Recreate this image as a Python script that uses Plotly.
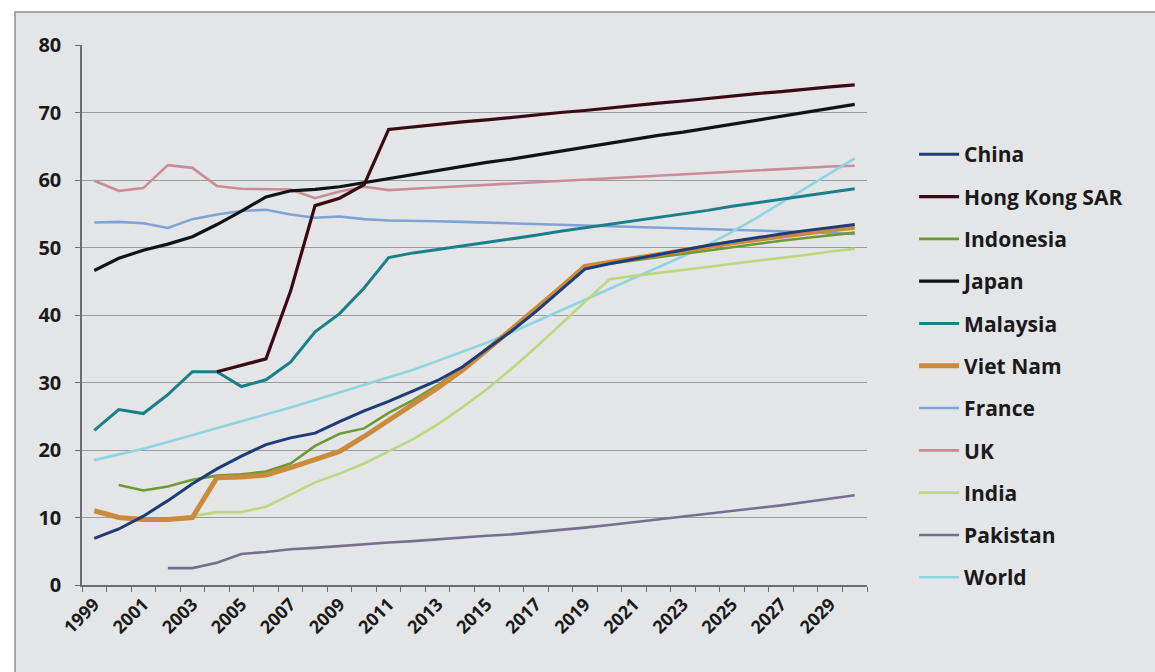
import plotly.graph_objects as go

years = list(range(1999, 2031))

china = [6.9, 8.3, 10.2, 12.5, 15.0, 17.2, 19.1, 20.8, 21.8, 22.5, 24.2, 25.8, 27.2, 28.7, 30.3, 32.3,
         35.0, 37.6, 40.5, 43.7, 46.8, 47.6, 48.3, 49.0, 49.7, 50.3, 50.9, 51.5, 52.0, 52.5, 53.0, 53.4]
hong_kong = [None, None, None, None, None, 31.6, 32.6, 33.5, 43.5, 56.2, 57.3, 59.3, 67.5, 67.9, 68.2, 68.6,
             68.9, 69.3, 69.6, 70.0, 70.3, 70.7, 71.0, 71.4, 71.7, 72.1, 72.4, 72.8, 73.1, 73.5, 73.8, 74.1]
indonesia = [None, 14.8, 14.0, 14.6, 15.6, 16.2, 16.4, 16.8, 18.0, 20.6, 22.4, 23.2, 25.5, 27.4, 29.6, 32.2,
             35.0, 38.0, 41.0, 44.2, 47.3, 47.6, 48.1, 48.6, 49.1, 49.6, 50.1, 50.6, 51.0, 51.4, 51.8, 52.2]
japan = [46.6, 48.4, 49.6, 50.5, 51.6, 53.4, 55.4, 57.5, 58.4, 58.6, 59.0, 59.6, 60.3, 60.9, 61.4, 62.0,
         62.6, 63.1, 63.7, 64.3, 64.9, 65.4, 66.0, 66.6, 67.1, 67.7, 68.3, 68.9, 69.4, 70.0, 70.6, 71.2]
malaysia = [22.9, 26.0, 25.4, 28.2, 31.6, 31.6, 29.4, 30.4, 33.0, 37.5, 40.2, 44.0, 48.5, 49.2, 49.7, 50.2,
            50.8, 51.3, 51.8, 52.4, 52.9, 53.4, 54.0, 54.5, 55.0, 55.5, 56.1, 56.6, 57.1, 57.6, 58.2, 58.7]
viet_nam = [11.0, 10.0, 9.7, 9.7, 10.0, 15.9, 16.0, 16.3, 17.4, 18.6, 19.8, 22.0, 24.5, 26.8, 29.2, 31.8,
            34.8, 37.8, 40.8, 44.0, 47.2, 47.8, 48.4, 49.0, 49.6, 50.2, 50.7, 51.2, 51.7, 52.2, 52.6, 53.0]
france = [53.7, 53.8, 53.6, 52.9, 54.2, 54.9, 55.4, 55.6, 54.9, 54.4, 54.6, 54.2, 54.0, 54.0, 53.9, 53.8,
          53.7, 53.6, 53.5, 53.4, 53.3, 53.2, 53.1, 53.0, 52.9, 52.7, 52.6, 52.5, 52.4, 52.3, 52.1, 52.0]
uk = [59.9, 58.4, 58.8, 62.2, 61.8, 59.1, 58.7, 58.6, 58.6, 57.3, 58.3, 59.0, 58.5, 58.7, 58.9, 59.1,
      59.3, 59.5, 59.7, 59.9, 60.1, 60.3, 60.5, 60.7, 60.9, 61.1, 61.3, 61.5, 61.6, 61.8, 62.0, 62.1]
india = [None, None, 9.6, 9.7, 10.2, 10.8, 10.8, 11.6, 13.4, 15.2, 16.5, 18.0, 19.8, 21.6, 23.8, 26.3,
         29.0, 32.0, 35.2, 38.6, 42.0, 45.3, 45.8, 46.2, 46.7, 47.1, 47.6, 48.0, 48.5, 48.9, 49.4, 49.8]
pakistan = [None, None, None, 2.5, 2.5, 3.3, 4.6, 4.9, 5.3, 5.5, 5.8, 6.0, 6.3, 6.5, 6.8, 7.0,
            7.3, 7.5, 7.8, 8.1, 8.5, 8.9, 9.3, 9.7, 10.1, 10.5, 11.0, 11.4, 11.8, 12.3, 12.8, 13.3]
world = [18.5, 19.3, 20.2, 21.2, 22.2, 23.2, 24.2, 25.2, 26.3, 27.4, 28.5, 29.6, 30.7, 31.9, 33.2, 34.5,
         35.9, 37.4, 39.0, 40.6, 42.2, 43.8, 45.4, 47.0, 48.7, 50.4, 52.3, 54.4, 56.6, 58.8, 61.0, 63.2]

series_names = ["China", "Hong Kong SAR", "Indonesia", "Japan", "Malaysia", "Viet Nam",
                "France", "UK", "India", "Pakistan", "World"]
series_values = [china, hong_kong, indonesia, japan, malaysia, viet_nam,
                 france, uk, india, pakistan, world]
series_colors = ["#1E3C78", "#3A0A14", "#6E9A34", "#111118", "#1B7F8A", "#CC8A3C",
                 "#7FA3D6", "#C98C98", "#BCD87E", "#76708E", "#8FD4E2"]
series_widths = [3, 3.2, 2.6, 3.2, 3, 5, 2.6, 2.6, 2.6, 2.6, 2.6]

# draw order: lighter lines underneath, heavy dark lines on top
draw_order = [6, 7, 10, 8, 9, 2, 5, 0, 4, 3, 1]

tick_years = list(range(1999, 2031, 2))

fig = go.Figure()
for i in draw_order:
    fig.add_trace(go.Scatter(
        x=years, y=series_values[i], name=series_names[i], mode="lines",
        line=dict(color=series_colors[i], width=series_widths[i]),
        legendgroup=series_names[i], legendrank=i + 1,
        connectgaps=False,
    ))

font_family = "'Open Sans', Lato, sans-serif"
L, R, T, B = 82, 288, 45, 87
W, H = 1155, 672
pw, ph = W - L - R, H - T - B

fig.update_layout(
    width=W, height=H,
    margin=dict(l=L, r=R, t=T, b=B),
    paper_bgcolor="#FFFFFF",
    plot_bgcolor="#E4E5E7",
    font=dict(family=font_family, size=20, color="#1A1A1A"),
    showlegend=True,
    legend=dict(
        x=1.06, y=0.835, xanchor="left", yanchor="top",
        bgcolor="rgba(0,0,0,0)",
        font=dict(family=font_family, size=21, color="#1A1A1A", weight="bold"),
        tracegroupgap=12,
        itemwidth=40,
    ),
    xaxis=dict(
        range=[1998.5, 2030.5],
        tickmode="array", tickvals=tick_years, ticktext=[str(y) for y in tick_years],
        tickangle=-45, ticks="", showgrid=False,
        showline=True, linecolor="#6E6E6E", linewidth=1.5,
        tickfont=dict(family=font_family, size=18, color="#1A1A1A", weight="bold"),
        minor=dict(tickmode="linear", tick0=1998.5, dtick=1, ticks="outside",
                   ticklen=5, tickcolor="#6E6E6E", showgrid=False),
        zeroline=False,
    ),
    yaxis=dict(
        range=[0, 80], dtick=10, tick0=0,
        showgrid=True, gridcolor="#9C9CA0", gridwidth=1,
        showline=True, linecolor="#6E6E6E", linewidth=1.5,
        ticks="outside", ticklen=5, tickcolor="#6E6E6E",
        ticklabelstandoff=10,
        tickfont=dict(family=font_family, size=20, color="#1A1A1A", weight="bold"),
        zeroline=False,
    ),
)

# grey chart-area panel behind the plot, with a thin border
fig.add_shape(
    type="rect", xref="paper", yref="paper", layer="below",
    x0=(15 - L) / pw, x1=(W + 5 - L) / pw,
    y0=-(B + 5) / ph, y1=(H - 12 - B) / ph,
    fillcolor="#E4E5E7", line=dict(color="#8C8C8C", width=1.5),
)

fig.write_html("out.html")
